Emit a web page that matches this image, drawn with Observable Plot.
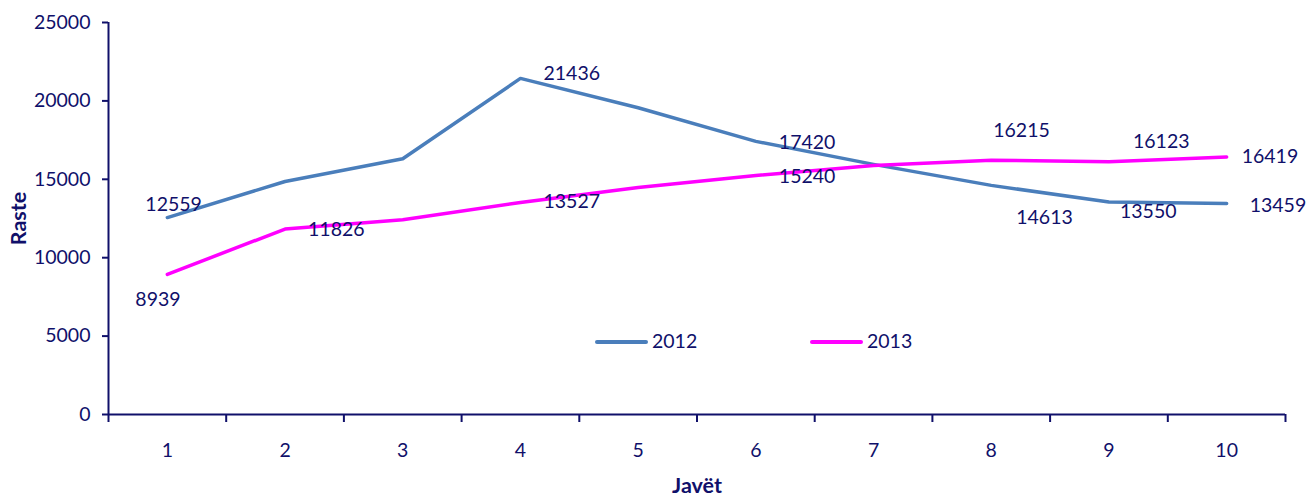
<!DOCTYPE html>
<html>
<head>
<meta charset="utf-8">
<script src="https://cdn.jsdelivr.net/npm/d3@7"></script>
<script src="https://cdn.jsdelivr.net/npm/@observablehq/plot@0.6"></script>
<style>
  html, body { margin: 0; padding: 0; background: #fff; }
  #wrap { position: relative; width: 1312px; height: 499px; }
  #wrap svg { display: block; }
  g[aria-label="y-axis label"] text, g[aria-label="x-axis label"] text { font-weight: bold; font-size: 21.5px; }
  .leg { position: absolute; font-family: Lato, sans-serif; font-size: 19.5px; color: #10106a; line-height: 20px; }
  .leg .sw { position: absolute; height: 4px; border-radius: 2px; width: 53px; top: 9px; left: 0; }
  .leg .lb { position: absolute; left: 57px; top: 0; }
</style>
</head>
<body>
<div id="wrap"></div>
<script>
const weeks = [1, 2, 3, 4, 5, 6, 7, 8, 9, 10];
const cases2012 = [12559, 14860, 16307, 21436, 19560, 17420, 15950, 14613, 13550, 13459];
const cases2013 = [8939, 11826, 12420, 13527, 14470, 15240, 15880, 16215, 16123, 16419];
const seriesNames = ["2012", "2013"];
const labeledWeeks2012 = [1, 4, 6, 8, 9, 10];
const labeledWeeks2013 = [1, 2, 4, 6, 8, 9, 10];
const yTicks = [0, 5000, 10000, 15000, 20000, 25000];

const colors = { "2012": "#4a7ebb", "2013": "#ff00ff" };
const ink = "#10106a";

// label nudges (styling, like Excel's label placement)
const nudge2012 = { 1: [-22, -13], 4: [23, -5], 6: [23, 1], 8: [25, 32], 9: [11, 10], 10: [23, 2] };
const nudge2013 = { 1: [-32, 25], 2: [23, 1], 4: [23, -1], 6: [23, 1], 8: [2, -29], 9: [24, -20], 10: [15, 0] };

const rows = [];
weeks.forEach((w, i) => {
  rows.push({ week: w, value: cases2012[i], series: seriesNames[0] });
  rows.push({ week: w, value: cases2013[i], series: seriesNames[1] });
});

const boundaries = d3.range(0.5, weeks.length + 1, 1);

const labelMarks = [];
labeledWeeks2012.forEach(w => {
  const d = rows.filter(r => r.series === "2012" && r.week === w);
  const [dx, dy] = nudge2012[w];
  labelMarks.push(Plot.text(d, { x: "week", y: "value", text: r => String(r.value), textAnchor: "start", dx, dy, fill: ink }));
});
labeledWeeks2013.forEach(w => {
  const d = rows.filter(r => r.series === "2013" && r.week === w);
  const [dx, dy] = nudge2013[w];
  labelMarks.push(Plot.text(d, { x: "week", y: "value", text: r => String(r.value), textAnchor: "start", dx, dy, fill: ink }));
});

const chart = Plot.plot({
  width: 1312,
  height: 499,
  marginLeft: 108,
  marginRight: 27,
  marginTop: 22,
  marginBottom: 85,
  style: { fontFamily: "Lato, sans-serif", fontSize: "19.5px", color: ink, background: "#fff" },
  x: { type: "linear", domain: [0.5, weeks.length + 0.5] },
  y: { domain: [0, 25000] },
  marks: [
    Plot.axisY({ ticks: yTicks, tickSize: 6, tickPadding: 12, strokeWidth: 2, tickFormat: d3.format("d"),
      label: "Raste", labelAnchor: "center", labelArrow: "none", labelOffset: 98 }),
    Plot.axisX({ ticks: boundaries, tickSize: 8, strokeWidth: 2, tickFormat: () => "", label: null }),
    Plot.axisX({ ticks: weeks, tickSize: 0, tickPadding: 29, tickFormat: d3.format("d"),
      label: "Javët", labelAnchor: "center", labelArrow: "none", labelOffset: 78 }),
    Plot.ruleY([0], { stroke: ink, strokeWidth: 2 }),
    Plot.ruleX([0.5], { stroke: ink, strokeWidth: 2 }),
    Plot.line(rows, { x: "week", y: "value", z: "series", stroke: d => colors[d.series], strokeWidth: 3.5, strokeLinejoin: "round", strokeLinecap: "round" }),
    ...labelMarks
  ]
});

const wrap = document.getElementById("wrap");
wrap.appendChild(chart);

// legend overlay
const legendPos = { "2012": 595, "2013": 810 };
seriesNames.forEach(s => {
  const div = document.createElement("div");
  div.className = "leg";
  div.style.left = legendPos[s] + "px";
  div.style.top = "331px";
  div.innerHTML = `<span class="sw" style="background:${colors[s]}"></span><span class="lb">${s}</span>`;
  wrap.appendChild(div);
});
</script>
</body>
</html>
